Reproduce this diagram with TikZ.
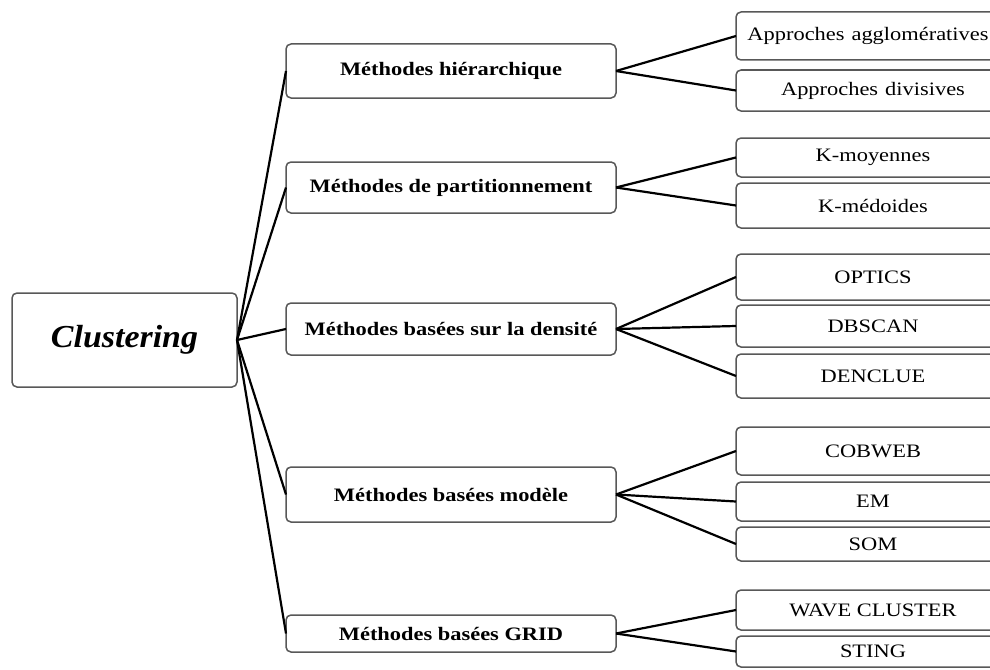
\documentclass[tikz,border=0pt]{standalone}
\usepackage{fontspec}
\setmainfont{Liberation Serif}
\newfontfamily\boxfont[FakeStretch=1.18]{Liberation Serif}
\newfontfamily\rootfont[FakeStretch=1.06]{Liberation Serif}
\definecolor{boxline}{HTML}{585858}
\tikzset{
  box/.style={draw=boxline, line width=1.5pt, rounded corners=5pt, fill=white,
    rectangle, inner sep=0pt, outer sep=0pt, align=center},
  rootbox/.style={box, minimum width=225pt, minimum height=94pt,
    font=\rootfont\fontsize{32}{36}\selectfont\bfseries\itshape},
  midbox/.style={box, minimum width=330pt,
    font=\boxfont\fontsize{19}{22}\selectfont\bfseries},
  leafbox/.style={box, minimum width=274pt,
    font=\boxfont\fontsize{19}{22}\selectfont},
  link/.style={draw=black, line width=2.2pt}
}
\begin{document}
\begin{tikzpicture}[x=1pt, y=-1pt]
\useasboundingbox (0,0) rectangle (990,669);
\clip (0,0) rectangle (990,669);

% root
\node[rootbox] (root) at (124.5,340) {Clustering};

% families of methods
\node[midbox, minimum height=54pt] (hier) at (451,71)    {Méthodes hiérarchique};
\node[midbox, minimum height=51pt] (part) at (451,187.5) {Méthodes de partitionnement};
\node[midbox, minimum height=52pt] (dens) at (451,329)   {Méthodes basées sur la densité};
\node[midbox, minimum height=55pt] (modl) at (451,494.5) {Méthodes basées modèle};
\node[midbox, minimum height=37pt] (grid) at (451,633.5) {Méthodes basées GRID};

% algorithms
\node[leafbox, minimum height=48pt] (aggl) at (873,36)    {\hspace*{-10pt}Approches\hspace{7pt}agglomératives};
\node[leafbox, minimum height=41pt] (divi) at (873,90.5)  {Approches\hspace{7pt}divisives};
\node[leafbox, minimum height=39pt] (kmoy) at (873,157.5) {K-moyennes};
\node[leafbox, minimum height=45pt] (kmed) at (873,205.5) {K-médoides};
\node[leafbox, minimum height=46pt] (opti) at (873,277)   {OPTICS};
\node[leafbox, minimum height=42pt] (dbsc) at (873,326)   {DBSCAN};
\node[leafbox, minimum height=44pt] (denc) at (873,376)   {DENCLUE};
\node[leafbox, minimum height=48pt] (cobw) at (873,451)   {COBWEB};
\node[leafbox, minimum height=39pt] (emal) at (873,501.5) {EM};
\node[leafbox, minimum height=34pt] (soma) at (873,544)   {SOM};
\node[leafbox, minimum height=40pt] (wave) at (873,610)   {WAVE CLUSTER};
\node[leafbox, minimum height=31pt] (stin) at (873,651.5) {STING};

% connectors
\foreach \m in {hier,part,dens,modl,grid}
  \draw[link] (root.east) -- (\m.west);
\draw[link] (hier.east) -- (aggl.west);
\draw[link] (hier.east) -- (divi.west);
\draw[link] (part.east) -- (kmoy.west);
\draw[link] (part.east) -- (kmed.west);
\draw[link] (dens.east) -- (opti.west);
\draw[link] (dens.east) -- (dbsc.west);
\draw[link] (dens.east) -- (denc.west);
\draw[link] (modl.east) -- (cobw.west);
\draw[link] (modl.east) -- (emal.west);
\draw[link] (modl.east) -- (soma.west);
\draw[link] (grid.east) -- (wave.west);
\draw[link] (grid.east) -- (stin.west);
\end{tikzpicture}
\end{document}
